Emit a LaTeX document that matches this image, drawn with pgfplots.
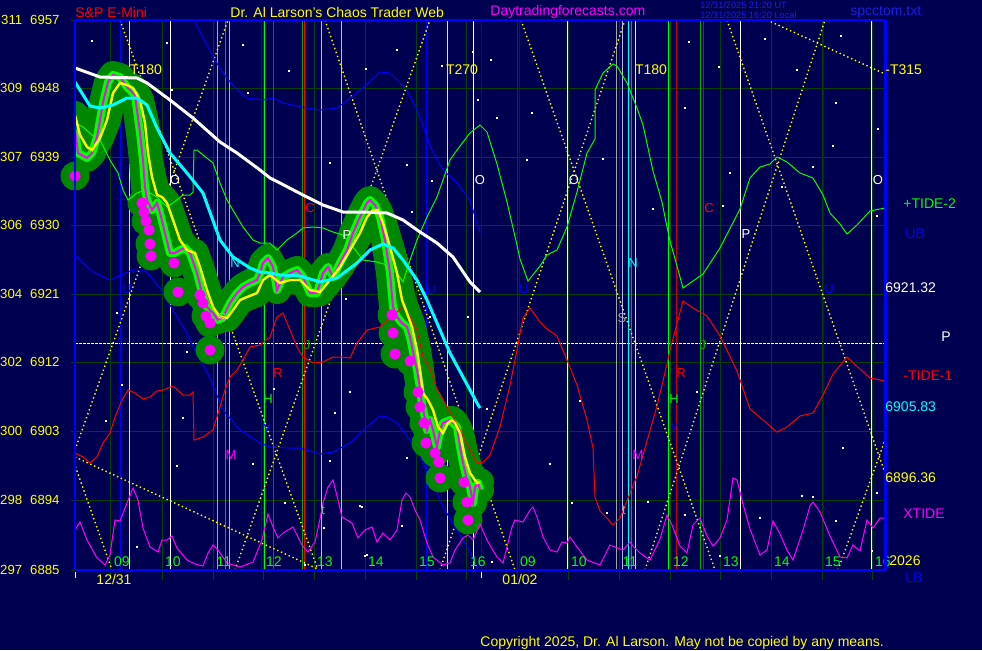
\documentclass[border=0pt]{standalone}
\usepackage{pgfplots}
\pgfplotsset{compat=1.18}
\usepackage{fontspec}
\setmainfont{Liberation Sans}
\definecolor{bgc}{RGB}{0,0,80}
\definecolor{gridc}{RGB}{0,66,10}
\definecolor{bl}{RGB}{0,0,255}
\definecolor{tb}{RGB}{30,30,225}
\definecolor{yl}{RGB}{255,255,0}
\definecolor{mg}{RGB}{255,0,255}
\definecolor{cy}{RGB}{0,255,255}
\definecolor{gr}{RGB}{0,255,0}
\definecolor{dgr}{RGB}{0,170,0}
\definecolor{halo}{RGB}{0,135,0}
\definecolor{rd}{RGB}{255,0,0}
\definecolor{drd}{RGB}{200,0,0}
\definecolor{gy}{RGB}{165,165,165}
\definecolor{lv}{RGB}{185,185,235}
\newcommand\fs{\fontsize{7pt}{8pt}\selectfont}
\newcommand\fy{\fontsize{6.6pt}{7pt}\selectfont}
\newcommand\fl{\fontsize{6.5pt}{7pt}\selectfont}
\newcommand\ft{\fontsize{4.6pt}{5pt}\selectfont}
\pgfplotsset{dotl/.style={yl, line width=0.7pt, dash pattern=on 0.7pt off 1.4pt}}
\begin{document}
\begin{tikzpicture}
\fill[bgc] (0,0) rectangle (491pt,325pt);
\begin{axis}[at={(37.5pt,40pt)}, anchor=south west, scale only axis,
  width=405pt, height=275pt, xmin=75, xmax=885, ymin=20, ymax=570, y dir=reverse,
  clip mode=individual, axis line style={draw=none}, xtick=\empty,
  ytick={20,88,157,225,294,362,431,500,570}, ytick pos=left,
  yticklabels={311\hspace{4pt}6957,309\hspace{4pt}6948,307\hspace{4pt}6939,306\hspace{4pt}6930,304\hspace{4pt}6921,302\hspace{4pt}6912,300\hspace{4pt}6903,298\hspace{4pt}6894,297\hspace{4pt}6885},
  yticklabel style={font=\fy, text=yl, inner sep=0pt, xshift=-5.5pt},
  ymajorgrids, grid style={gridc, line width=0.5pt},
  tick style={gridc, line width=0.5pt}, major tick length=2pt, tick align=outside]
% vertical hour grid
\foreach \g in {111,162,213,263,314,365,416,466,517,568,619,670,720,771,822,872}{
  \edef\tmp{\noexpand\draw[gridc, line width=0.5pt] (axis cs:\g,20) -- (axis cs:\g,580);}\tmp}
% horizontal dotted
\draw[white, line width=0.5pt, dash pattern=on 1.5pt off 0.5pt] (axis cs:75,343) -- (axis cs:885,343);
% coloured verticals
\foreach \x/\c in {121/bl,130/yl,170/white,217/gy,225/mg,229/cy,261/bl,264/gr,273/rd,302/dgr,304/rd,321/lv,341/lv,426/bl,447/yl,473/white,481/bl,519/bl,567/white,616/gy,622/lv,628/cy,631/mg,635/yl,668/gr,676/drd,700/dgr,703/drd,740/white,823/bl,871/white}{
  \edef\tmp{\noexpand\draw[\c, line width=0.5pt] (axis cs:\x,20) -- (axis cs:\x,570);}\tmp}
% yellow dotted cycle lines
\addplot[dotl] coordinates {(60,423) (112,570)};
\addplot[dotl] coordinates {(75,450) (228,20)};
\addplot[dotl] coordinates {(120,20) (318,570)};
\addplot[dotl] coordinates {(235,570) (430,20)};
\addplot[dotl] coordinates {(325,20) (515,570)};
\addplot[dotl] coordinates {(440,570) (625,20)};
\addplot[dotl] coordinates {(521,20) (715,570)};
\addplot[dotl] coordinates {(645,570) (825,20)};
\addplot[dotl] coordinates {(727,20) (885,473)};
\addplot[dotl] coordinates {(838,570) (885,440)};
\addplot[dotl] coordinates {(75,457) (320,570)};
\addplot[dotl] coordinates {(767,20) (885,74)};
% stars
\addplot[only marks, mark=square*, mark size=0.35pt, white] coordinates {
(92,41) (167,43) (243,45) (289,71) (248,93) (172,90) (397,50) (366,69) (473,52) (442,66) (491,60) (478,100) (497,118) (532,113) (689,42) (719,67) (765,39) (797,70) (841,36) (836,103) (685,108) (878,129) (527,160) (603,159) (730,173) (782,187) (833,146) (653,209) (723,206) (813,167) (877,216) (487,409) (580,401) (697,392) (843,448) (813,497) (550,464) (122,385) (183,418) (106,421) (137,547) (177,466) (187,352) (117,313) (253,464) (274,389) (350,392) (335,413) (407,458) (360,506) (324,528) (365,556) (305,565) (285,503) (330,461) (330,163) (407,165) (432,181) (412,212) (468,317) (346,299) (430,317) (362,507) (402,526) (367,555) (492,562) (572,503) (607,513) (648,502) (802,496) (760,518) (836,521) (877,493) (872,551) (685,515) (720,556)};
% bands
\addplot[bl, line width=0.5pt] coordinates {(190,12) (204,40) (215,60) (223,73) (235,88) (247,98) (263,100) (273,98) (283,103) (307,108) (320,110) (337,108) (363,88) (380,72) (390,73) (407,90) (417,110) (432,150) (443,170) (457,183) (470,200) (480,233)};
\addplot[bl, line width=0.5pt] coordinates {(75,255) (93,272) (110,280) (133,270) (145,270) (160,288) (170,305) (185,330) (195,350) (210,378) (223,410) (240,430) (260,443) (270,447) (290,448) (300,448) (320,454) (333,452) (350,443) (367,427) (380,416) (387,417) (397,423) (410,440) (420,457) (433,483) (443,507) (457,530) (470,552) (478,570)};
% halo
\addplot[halo, line width=14pt, line cap=round, line join=round] coordinates {(75,176) (75,130) (78,153) (87,158) (92,153) (97,137) (103,103) (108,82) (113,75) (120,77) (127,87) (135,95) (140,133) (143,160) (145,187) (147,200) (152,210) (157,203) (160,213) (165,233) (170,253) (175,253) (180,250) (185,248) (190,253) (197,273) (202,293) (207,307) (213,313) (218,320) (223,317) (230,303) (237,293) (243,287) (250,283) (257,280) (260,273) (263,263) (268,258) (273,267) (277,290) (283,277) (290,273) (297,270) (303,277) (310,293) (317,293) (323,273) (328,267) (333,277) (340,263) (347,250) (353,233) (360,217) (367,203) (370,200) (375,205) (380,217) (385,240) (390,273) (393,307) (397,317) (402,323) (407,327) (410,337) (413,352) (417,370) (420,388) (422,405) (425,418) (427,430) (430,420) (433,430) (437,447) (440,430) (443,423) (450,420) (457,427) (460,447) (463,463) (467,480) (470,487) (473,503) (475,487) (478,483) (480,490)};
\addplot[halo, line width=14pt, line cap=round, line join=round] coordinates {(75,115) (80,135) (87,147) (92,150) (100,138) (107,120) (113,93) (120,83) (127,85) (133,88) (140,100) (145,123) (148,153) (152,177) (157,195) (162,197) (167,203) (173,220) (180,240) (187,250) (195,253) (200,267) (207,290) (213,307) (220,317) (227,318) (233,310) (240,300) (247,297) (257,293) (263,280) (270,275) (280,283) (290,280) (300,280) (310,290) (320,292) (330,280) (340,267) (350,250) (360,233) (367,217) (373,210) (378,210) (383,223) (390,247) (397,273) (402,300) (407,313) (412,327) (417,350) (420,370) (423,393) (428,400) (433,410) (438,427) (443,433) (448,423) (452,420) (455,423) (460,433) (465,457) (470,473) (477,483) (480,482)};
\addplot[only marks, mark=*, mark size=7pt, halo] coordinates {(75,176) (142,203) (146,221) (150,244) (151,256) (174,263) (178,292) (200,295) (206,316) (210,323) (210,350) (392,315) (393,333) (395,354) (410,361) (418,392) (420,407) (424,423) (426,443) (435,453) (440,478) (464,482) (467,502) (468,520)};
\addplot[gr, line width=4pt, line join=round] coordinates {(75,130) (78,153) (87,158) (92,153) (97,137) (103,103) (108,82) (113,75) (120,77) (127,87) (135,95) (140,133) (143,160) (145,187) (147,200) (152,210) (157,203) (160,213) (165,233) (170,253) (175,253) (180,250) (185,248) (190,253) (197,273) (202,293) (207,307) (213,313) (218,320) (223,317) (230,303) (237,293) (243,287) (250,283) (257,280) (260,273) (263,263) (268,258) (273,267) (277,290) (283,277) (290,273) (297,270) (303,277) (310,293) (317,293) (323,273) (328,267) (333,277) (340,263) (347,250) (353,233) (360,217) (367,203) (370,200) (375,205) (380,217) (385,240) (390,273) (393,307) (397,317) (402,323) (407,327) (410,337) (413,352) (417,370) (420,388) (422,405) (425,418) (427,430) (430,420) (433,430) (437,447) (440,430) (443,423) (450,420) (457,427) (460,447) (463,463) (467,480) (470,487) (473,503) (475,487) (478,483) (480,490)};
% tides
\addplot[rd, line width=0.5pt] coordinates {(75,453) (83,457) (90,463) (97,457) (103,443) (110,433) (115,417) (122,400) (128,390) (135,393) (143,399) (150,397) (157,391) (163,390) (173,386) (183,395) (190,395) (193,392) (194,440) (203,437) (213,430) (220,407) (225,390) (230,377) (237,370) (243,360) (250,347) (260,345) (270,337) (277,317) (283,313) (290,330) (297,347) (303,357) (313,363) (323,362) (333,357) (340,357) (350,358) (357,343) (367,330) (380,327) (390,318) (403,307) (410,317) (417,330) (423,357) (430,368) (437,390) (443,400) (450,412) (460,430) (470,450) (477,463) (483,462) (490,455) (500,427) (510,385) (517,350) (523,318) (530,308) (540,322) (547,329) (557,336) (567,360) (577,385) (587,420) (593,448) (595,497) (600,511) (607,518) (613,525) (620,518) (627,501) (637,476) (647,441) (657,406) (667,364) (670,350) (683,301) (693,308) (707,316) (720,336) (737,371) (750,409) (763,420) (777,432) (787,427) (800,416) (813,413) (823,395) (833,374) (847,357) (860,369) (870,378) (885,381)};
\addplot[gr, line width=0.5pt] coordinates {(75,123) (83,127) (92,135) (100,140) (105,150) (110,160) (118,173) (123,190) (128,200) (137,193) (145,190) (157,197) (167,207) (173,203) (183,195) (190,195) (193,192) (194,150) (197,150) (203,155) (213,163) (220,183) (227,200) (237,217) (243,227) (253,240) (260,243) (270,243) (277,250) (287,240) (297,233) (303,228) (313,227) (323,228) (333,232) (343,235) (353,247) (363,260) (377,262) (387,265) (397,273) (403,282) (410,260) (417,240) (427,217) (437,197) (443,180) (450,160) (457,150) (470,133) (480,125) (487,132) (497,164) (507,202) (517,245) (520,259) (528,281) (540,266) (547,255) (557,250) (567,227) (577,192) (587,153) (595,139) (595,90) (603,73) (613,64) (617,66) (627,83) (637,108) (643,125) (653,171) (662,202) (667,227) (670,241) (677,266) (683,288) (693,281) (703,274) (720,248) (740,209) (750,178) (760,167) (770,164) (777,157) (787,162) (800,173) (813,178) (823,195) (830,213) (840,224) (847,234) (857,225) (870,211) (885,208)};
% XTIDE
\addplot[mg, line width=0.5pt] coordinates {(75,530) (80,522) (87,540) (97,558) (105,565) (110,555) (115,520) (120,521) (127,503) (133,488) (138,500) (143,528) (150,547) (158,552) (162,540) (167,540) (172,536) (177,548) (187,560) (195,564) (203,566) (208,553) (213,545) (218,550) (227,563) (240,567) (253,562) (262,540) (268,514) (273,527) (278,538) (283,533) (293,527) (302,545) (308,552) (315,542) (320,519) (323,503) (328,487) (333,480) (338,500) (342,517) (347,520) (352,523) (358,538) (365,530) (372,527) (377,542) (383,533) (390,540) (397,530) (402,500) (406,493) (410,497) (415,510) (420,520) (427,543) (433,557) (443,565) (450,563) (455,550) (463,538) (468,535) (473,540) (480,524) (487,540) (497,557) (503,563) (512,527) (515,520) (523,522) (530,510) (533,507) (537,517) (543,537) (550,550) (557,552) (562,542) (567,543) (570,537) (577,547) (587,560) (600,565) (610,545) (615,547) (623,550) (630,542) (633,546) (640,553) (650,560) (660,539) (667,515) (672,525) (680,546) (687,553) (693,525) (700,518) (707,536) (713,546) (720,538) (727,520) (733,478) (737,480) (743,504) (750,529) (760,555) (767,550) (773,521) (780,534) (787,550) (793,560) (803,530) (810,506) (813,502) (820,512) (830,536) (840,557) (847,558) (853,545) (860,551) (867,520) (873,528) (880,518) (885,518)};
% price
\addplot[mg, line width=1pt] coordinates {(75,130) (78,153) (87,158) (92,153) (97,137) (103,103) (108,82) (113,75) (120,77) (127,87) (135,95) (140,133) (143,160) (145,187) (147,200) (152,210) (157,203) (160,213) (165,233) (170,253) (175,253) (180,250) (185,248) (190,253) (197,273) (202,293) (207,307) (213,313) (218,320) (223,317) (230,303) (237,293) (243,287) (250,283) (257,280) (260,273) (263,263) (268,258) (273,267) (277,290) (283,277) (290,273) (297,270) (303,277) (310,293) (317,293) (323,273) (328,267) (333,277) (340,263) (347,250) (353,233) (360,217) (367,203) (370,200) (375,205) (380,217) (385,240) (390,273) (393,307) (397,317) (402,323) (407,327) (410,337) (413,352) (417,370) (420,388) (422,405) (425,418) (427,430) (430,420) (433,430) (437,447) (440,430) (443,423) (450,420) (457,427) (460,447) (463,463) (467,480) (470,487) (473,503) (475,487) (478,483) (480,490)};
\addplot[yl, line width=1.2pt] coordinates {(75,115) (80,135) (87,147) (92,150) (100,138) (107,120) (113,93) (120,83) (127,85) (133,88) (140,100) (145,123) (148,153) (152,177) (157,195) (162,197) (167,203) (173,220) (180,240) (187,250) (195,253) (200,267) (207,290) (213,307) (220,317) (227,318) (233,310) (240,300) (247,297) (257,293) (263,280) (270,275) (280,283) (290,280) (300,280) (310,290) (320,292) (330,280) (340,267) (350,250) (360,233) (367,217) (373,210) (378,210) (383,223) (390,247) (397,273) (402,300) (407,313) (412,327) (417,350) (420,370) (423,393) (428,400) (433,410) (438,427) (443,433) (448,423) (452,420) (455,423) (460,433) (465,457) (470,473) (477,483) (480,482)};
\addplot[only marks, mark=*, mark size=2.6pt, mg] coordinates {(75,176) (142,203) (144,212) (146,221) (149,230) (150,244) (151,256) (174,263) (178,292) (200,295) (203,303) (206,316) (210,323) (210,350) (392,315) (393,333) (395,354) (410,361) (418,392) (420,407) (424,423) (426,443) (435,453) (439,462) (440,478) (464,482) (467,502) (468,520)};
% moving averages
\addplot[white, line width=1.5pt] coordinates {(75,68) (100,77) (137,78) (147,83) (170,100) (193,118) (220,142) (237,153) (260,170) (270,178) (280,183) (303,195) (323,205) (343,212) (363,212) (387,213) (403,220) (420,232) (437,243) (453,257) (470,282) (480,292)};
\addplot[cy, line width=1.5pt] coordinates {(75,82) (90,106) (100,108) (113,105) (127,98) (137,98) (147,105) (157,128) (170,153) (187,173) (203,193) (220,240) (233,257) (250,268) (260,272) (270,273) (280,275) (300,276) (320,282) (337,278) (357,263) (370,250) (383,244) (393,248) (403,260) (417,280) (427,300) (437,323) (450,353) (463,377) (477,403) (480,408)};
% letters
\foreach \x/\y/\c/\t in {175/180/white/O,480/180/white/O,574/180/white/O,878/180/white/O,235/263/cy/N,633/263/cy/N,127/289/bl/U,431/290/bl/U,524/289/bl/U,829/289/bl/U,310/208/rd/C,709/208/rd/C,347/235/white/P,746/234/white/P,278/373/rd/R,681/373/rd/R,268/399/gr/H,674/399/gr/H,231/455/mg/M,638/455/mg/M,307/345/dgr/J,703/345/dgr/J,222/318/gy/S,622/318/gy/S,323/510/gy/t,624/510/gy/t,267/428/bl/v,674/427/bl/v}{
  \edef\tmp{\noexpand\node[text=\c, font=\noexpand\fl, inner sep=0pt] at (axis cs:\x,\y) {\t};}\tmp}
\node[text=yl, font=\fs, inner sep=0pt] at (axis cs:146,70) {T180};
\node[text=yl, font=\fs, inner sep=0pt] at (axis cs:462,70) {T270};
\node[text=yl, font=\fs, inner sep=0pt] at (axis cs:651,70) {T180};
% hour labels
\foreach \x/\t in {122/09,173/10,224/11,274/12,325/13,376/14,427/15,478/16,528/09,579/10,630/11,681/12,731/13,782/14,833/15,883/16}{
  \edef\tmp{\noexpand\node[text=gr, font=\noexpand\fs, inner sep=0pt] at (axis cs:\x,562) {\t};}\tmp}
% border
\draw[bl, line width=1.1pt] (axis cs:75,20) -- (axis cs:885,20);
\draw[bl, line width=1.1pt] (axis cs:75,570) -- (axis cs:885,570);
\draw[bl, line width=1.1pt] (axis cs:75,20) -- (axis cs:75,570);
\draw[bl, line width=1.5pt] (axis cs:885,20) -- (axis cs:885,570);
\draw[white, line width=0.5pt] (axis cs:75.5,572) -- (axis cs:75.5,578);
\draw[white, line width=0.5pt] (axis cs:481,572) -- (axis cs:481,578);
% outside text
\node[text=rd, font=\fs, inner sep=0pt, anchor=west] at (axis cs:75,12) {S\&P E-Mini};
\node[text=yl, font=\fs, inner sep=0pt, anchor=west] at (axis cs:230,12) {Dr. Al Larson's Chaos Trader Web};
\node[text=mg, font=\fs, inner sep=0pt, anchor=west] at (axis cs:490,12) {Daytradingforecasts.com};
\node[text=tb, font=\ft, inner sep=0pt, anchor=west] at (axis cs:700,5) {12/31/2025 21:20 UT};
\node[text=tb, font=\ft, inner sep=0pt, anchor=west] at (axis cs:700,15) {12/31/2025 16:20 Local};
\node[text=tb, font=\fs, inner sep=0pt, anchor=west] at (axis cs:850,12) {spcctom.txt};
\node[text=yl, font=\fs, inner sep=0pt, anchor=west] at (axis cs:885,70) {-T315};
\node[text=gr, font=\fs, inner sep=0pt, anchor=west] at (axis cs:903,204) {+TIDE-2};
\node[text=bl, font=\fs, inner sep=0pt, anchor=west] at (axis cs:905,234) {UB};
\node[text=white, font=\fs, inner sep=0pt, anchor=west] at (axis cs:885,288) {6921.32};
\node[text=white, font=\fs, inner sep=0pt] at (axis cs:946,337) {P};
\node[text=rd, font=\fs, inner sep=0pt, anchor=west] at (axis cs:903,376) {-TIDE-1};
\node[text=cy, font=\fs, inner sep=0pt, anchor=west] at (axis cs:885,407) {6905.83};
\node[text=yl, font=\fs, inner sep=0pt, anchor=west] at (axis cs:885,478) {6896.36};
\node[text=mg, font=\fs, inner sep=0pt, anchor=west] at (axis cs:903,514) {XTIDE};
\node[text=yl, font=\fs, inner sep=0pt, anchor=west] at (axis cs:889,561) {2026};
\node[text=bl, font=\fs, inner sep=0pt, anchor=west] at (axis cs:905,578) {LB};
\node[text=yl, font=\fs, inner sep=0pt] at (axis cs:114,579) {12/31};
\node[text=yl, font=\fs, inner sep=0pt] at (axis cs:520,579) {01/02};
\node[text=yl, font=\fs, inner sep=0pt, anchor=west] at (axis cs:480,643) {Copyright 2025, Dr. Al Larson. May not be copied by any means.};
\end{axis}
\pgfresetboundingbox
\path (0,0) rectangle (491pt,325pt);
\end{tikzpicture}
\end{document}
